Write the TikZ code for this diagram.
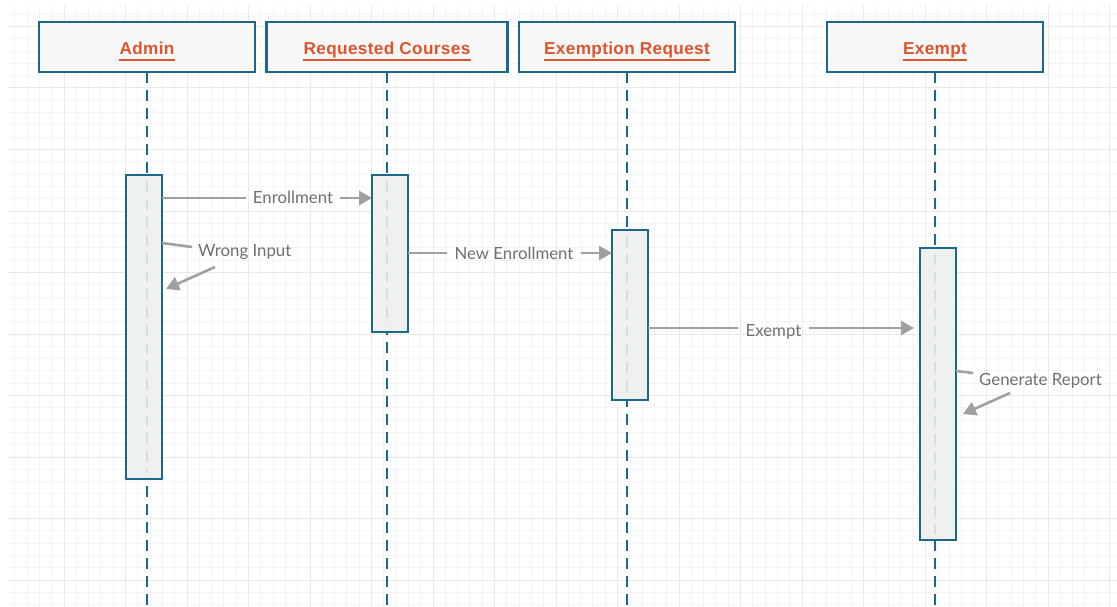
\documentclass[tikz,border=0pt]{standalone}
\usepackage{fontspec}
\setmainfont{Lato}
\newfontfamily\headfont{Liberation Sans}[LetterSpace=2]
\usetikzlibrary{arrows.meta}

\definecolor{lifeblue}{RGB}{28,104,140}
\definecolor{headred}{RGB}{222,84,44}
\definecolor{msggray}{RGB}{160,160,160}
\definecolor{txtgray}{RGB}{112,112,112}
\definecolor{boxfill}{RGB}{247,247,247}
\definecolor{actfill}{RGB}{239,240,240}
\definecolor{gridminor}{RGB}{244,244,244}
\definecolor{gridmajor}{RGB}{233,233,233}
\definecolor{ghost}{RGB}{214,222,228}

\begin{document}
\begin{tikzpicture}[x=1pt,y=-1pt,
  headbox/.style={draw=lifeblue, line width=2.2pt, fill=boxfill, minimum height=50pt, anchor=north west, inner sep=0pt, outer sep=0pt},
  headtext/.style={text=headred, font=\headfont\bfseries\fontsize{17.2}{20}\selectfont, inner sep=0pt, text height=12pt, text depth=0pt},
  headline/.style={draw=headred, line width=2pt},
  lifeline/.style={draw=lifeblue, line width=2.4pt, dash pattern=on 11pt off 7pt},
  ghostline/.style={draw=ghost, line width=1.4pt, dash pattern=on 11pt off 7pt},
  actbox/.style={draw=lifeblue, line width=2.2pt, fill=actfill, minimum width=36pt, anchor=north, inner sep=0pt, outer sep=0pt},
  msg/.style={draw=msggray, line width=2.6pt},
  msgarrow/.style={msg, -{Triangle[length=13pt,width=14pt]}},
  msglabel/.style={text=txtgray, font=\fontsize{16.8}{20}\selectfont, inner sep=7pt, text height=12pt, text depth=0pt, anchor=base},
]
% canvas and background grid
\useasboundingbox (0,0) rectangle (1117,607);
\fill[white] (0,0) rectangle (1117,607);
\foreach \j in {-84,...,5} {
  \draw[gridminor, line width=1pt] ({1048+12.3*\j},5) -- ({1048+12.3*\j},607);
}
\foreach \j in {-46,...,2} {
  \draw[gridminor, line width=1pt] (8,{580+12.3*\j}) -- (1117,{580+12.3*\j});
}
\foreach \j in {-80,-75,...,5} {
  \draw[gridmajor, line width=1pt] ({1048+12.3*\j},5) -- ({1048+12.3*\j},607);
}
\foreach \j in {-45,-40,...,0} {
  \draw[gridmajor, line width=1pt] (8,{580+12.3*\j}) -- (1117,{580+12.3*\j});
}

% participant headers
\node[headbox, minimum width=216pt] (hAdmin) at (39,22) {};
\node[headbox, minimum width=241pt] (hReq) at (266.5,22) {};
\node[headbox, minimum width=216pt] (hExr) at (519,22) {};
\node[headbox, minimum width=216pt] (hEx) at (827,22) {};

\foreach \h/\t in {hAdmin/Admin, hReq/Requested Courses, hExr/Exemption Request, hEx/Exempt} {
  \node[headtext] (\h-t) at ([yshift=-1.5pt]\h.center) {\t};
  \draw[headline] ([yshift=-5pt]\h-t.south west) -- ([yshift=-5pt]\h-t.south east);
}

% lifelines
\coordinate (endAdmin) at (hAdmin.south |- 0,607);
\coordinate (endReq) at (hReq.south |- 0,607);
\coordinate (endExr) at (hExr.south |- 0,607);
\coordinate (endEx) at (hEx.south |- 0,607);
\draw[lifeline] (hAdmin.south) -- (endAdmin);
\draw[lifeline] (hReq.south) -- (endReq);
\draw[lifeline] (hExr.south) -- (endExr);
\draw[lifeline] (hEx.south) -- (endEx);

% activation bars
\node[actbox, minimum height=304pt] (actA) at (144,175) {};
\node[actbox, minimum height=157pt] (actR) at (390,175) {};
\node[actbox, minimum height=170pt] (actER) at (630,230) {};
\node[actbox, minimum height=292pt] (actE) at (938,248) {};
\foreach \a/\h in {actA/hAdmin, actR/hReq, actER/hExr, actE/hEx} {
  \draw[ghostline] ([yshift=-6pt]\h.south |- \a.north) -- ([yshift=6pt]\h.south |- \a.south);
}

% Enrollment
\coordinate (m1s) at (actA.east |- 0,198);
\node[msglabel] (m1) at (293,204) {Enrollment};
\draw[msg] (m1s) -- (m1.west |- m1s);
\draw[msgarrow] (m1.east |- m1s) -- (actR.west |- m1s);

% New Enrollment
\coordinate (m2s) at (actR.east |- 0,253);
\node[msglabel] (m2) at (514,259) {New Enrollment};
\draw[msg] (m2s) -- (m2.west |- m2s);
\draw[msgarrow] (m2.east |- m2s) -- (actER.west |- m2s);

% Exempt
\coordinate (m3s) at (actER.east |- 0,328);
\coordinate (m3e) at ([xshift=-6pt]actE.west |- m3s);
\node[msglabel] (m3) at (773.5,336) {Exempt};
\draw[msg] (m3s) -- (m3.west |- m3s);
\draw[msgarrow] (m3.east |- m3s) -- (m3e);

% Wrong Input (self message)
\coordinate (w0) at (actA.east |- 0,243);
\coordinate (w1) at (192,247);
\coordinate (w2) at (215,267);
\coordinate (w3) at (166,289);
\node[msglabel, inner sep=0pt, anchor=base west] (wl) at (198,256) {Wrong Input};
\draw[msg] (w0) -- (w1);
\draw[msgarrow] (w2) -- (w3);

% Generate Report (self message)
\coordinate (g0) at (actE.east |- 0,371);
\coordinate (g1) at (973,373);
\coordinate (g2) at (1010,393);
\coordinate (g3) at (963,414);
\node[msglabel, inner sep=0pt, anchor=base west] (gl) at (979,385) {Generate Report};
\draw[msg] (g0) -- (g1);
\draw[msgarrow] (g2) -- (g3);
\end{tikzpicture}
\end{document}
